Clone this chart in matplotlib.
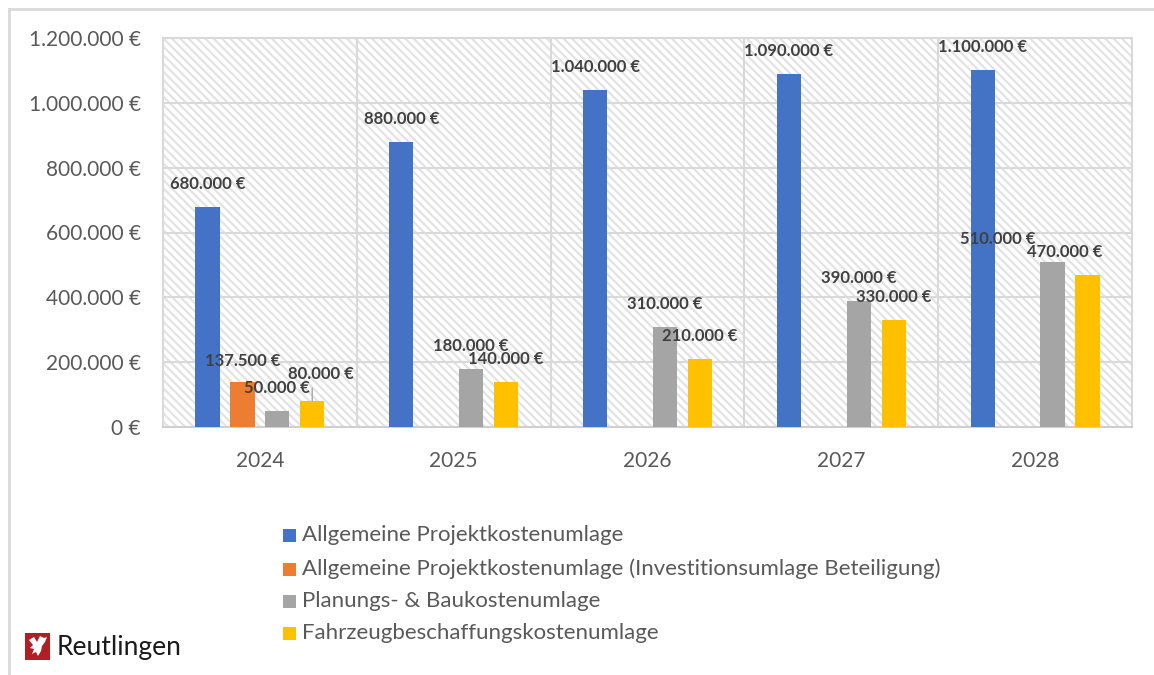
import matplotlib
matplotlib.use("Agg")
import matplotlib.pyplot as plt
from matplotlib.patches import Rectangle, Polygon
from matplotlib.lines import Line2D
import numpy as np

# ---------------- data ----------------
years = ["2024", "2025", "2026", "2027", "2028"]
series_names = [
    "Allgemeine Projektkostenumlage",
    "Allgemeine Projektkostenumlage (Investitionsumlage Beteiligung)",
    "Planungs- & Baukostenumlage",
    "Fahrzeugbeschaffungskostenumlage",
]
allg = [680000, 880000, 1040000, 1090000, 1100000]
invest = [137500, 0, 0, 0, 0]
planung = [50000, 180000, 310000, 390000, 510000]
fahrzeug = [80000, 140000, 210000, 330000, 470000]
yticks = [0, 200000, 400000, 600000, 800000, 1000000, 1200000]
colors = ["#4472C4", "#ED7D31", "#A5A5A5", "#FFC000"]

series = [allg, invest, planung, fahrzeug]

def fmt(v):
    return f"{int(v):,}".replace(",", ".") + " €"

plt.rcParams["font.family"] = ["Lato", "DejaVu Sans"]
plt.rcParams["hatch.color"] = "#e3e3e3"
plt.rcParams["hatch.linewidth"] = 1.6

W, H = 1154, 675
fig = plt.figure(figsize=(W / 100, H / 100), dpi=100)

# outer frame lines (left & top)
fig.add_artist(Line2D([9 / W, 9 / W], [0, 1 - 9 / H], color="#d9d9d9", lw=2))
fig.add_artist(Line2D([9 / W, 1], [1 - 9 / H, 1 - 9 / H], color="#d9d9d9", lw=2))

L, R, T, B = 163, 1132, 38, 427
ax = fig.add_axes([L / W, 1 - B / H, (R - L) / W, (B - T) / H])
ax.set_xlim(-0.5, 4.5)
ax.set_ylim(0, 1200000)

# hatched background
bg = Rectangle((0, 0), 1, 1, transform=ax.transAxes, facecolor="white",
               edgecolor="#e3e3e3", hatch="\\" * 4, lw=0, zorder=0)
ax.add_patch(bg)

# grid
for y in yticks[1:-1]:
    ax.axhline(y, color="#d9d9d9", lw=1.5, zorder=1)
for xb in [0.5, 1.5, 2.5, 3.5]:
    ax.axvline(xb, color="#d9d9d9", lw=1.5, zorder=1)
for s in ax.spines.values():
    s.set_color("#d9d9d9")
    s.set_linewidth(1.5)
ax.spines["bottom"].set_color("#cfcfcf")

x = np.arange(len(years))
step = 0.18
bw = 0.125
offsets = [-1.5 * step, -0.5 * step, 0.5 * step, 1.5 * step]

label_adjust = {(0, 1): (0, 21), (0, 3): (9, 27), (4, 2): (-55, 23), (4, 3): (-23, 23)}

for i, (vals, c) in enumerate(zip(series, colors)):
    ax.bar(x + offsets[i], vals, width=bw, color=c, zorder=3)
    for j, v in enumerate(vals):
        if v <= 0:
            continue
        dx, dy = label_adjust.get((j, i), (0, 23))
        ax.annotate(fmt(v), xy=(x[j] + offsets[i], v), xytext=(dx, dy),
                    textcoords="offset pixels", ha="center", va="center",
                    fontsize=12, fontweight="bold", color="#404040", zorder=5)

# leader line for 2024 Fahrzeug label
ax.annotate("", xy=(x[0] + offsets[3], fahrzeug[0]), xytext=(0, 13),
            textcoords="offset pixels",
            arrowprops=dict(arrowstyle="-", color="#a6a6a6", lw=1, shrinkA=0, shrinkB=0))

ax.set_yticks(yticks)
ax.set_yticklabels([fmt(v) if v else "0 €" for v in yticks])
ax.set_xticks(x)
ax.set_xticklabels(years)
ax.tick_params(axis="y", length=0, pad=16, labelsize=15, labelcolor="#595959")
ax.tick_params(axis="x", length=0, pad=17, labelsize=15, labelcolor="#595959")

# legend (manual)
leg_x = 283
leg_ys = [535, 569, 601, 633]
for name, c, ly in zip(series_names, colors, leg_ys):
    fig.add_artist(Rectangle((leg_x / W, 1 - (ly + 6.5) / H), 13 / W, 13 / H,
                             facecolor=c, edgecolor="none"))
    fig.text((leg_x + 19) / W, 1 - ly / H, name, ha="left", va="center",
             fontsize=16, color="#595959")

# logo
fig.add_artist(Rectangle((25 / W, 1 - 660 / H), 25 / W, 27 / H,
                         facecolor="#b01f24", edgecolor="none"))
eagle = [(29, 640), (34, 637), (37, 642), (40, 636), (44, 638), (47, 637),
         (45, 642), (42, 646), (41, 651), (38, 656), (36, 652), (32, 654),
         (34, 649), (30, 648), (33, 645)]
fig.add_artist(Polygon([(px / W, 1 - py / H) for px, py in eagle], closed=True,
                       facecolor="white", edgecolor="none"))
fig.text(57 / W, 1 - 648 / H, "Reutlingen", ha="left", va="center",
         fontsize=19, color="#1a1a1a")

fig.savefig("out.png", dpi=100)
